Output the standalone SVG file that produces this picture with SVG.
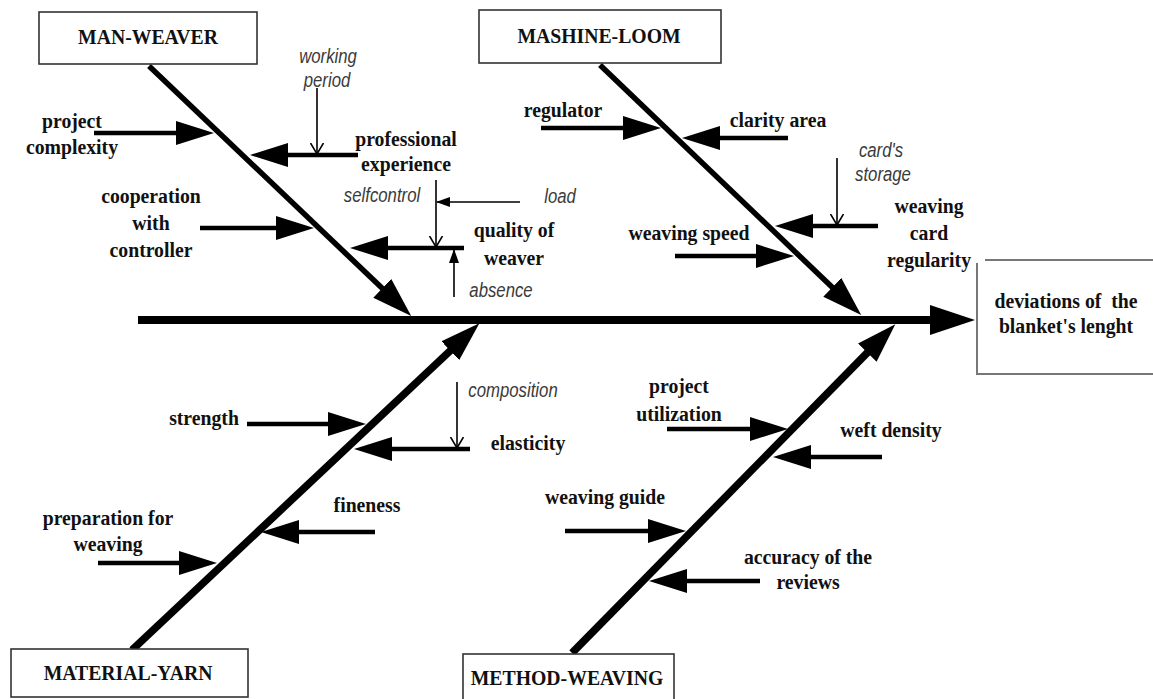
<svg xmlns="http://www.w3.org/2000/svg" width="1153" height="699" viewBox="0 0 1153 699">
<style>
.bg{fill:#fff}
.box{fill:#fff;stroke:#333;stroke-width:1.6}
.gbox{fill:none;stroke:#777;stroke-width:2}
.t{font-family:"Liberation Serif","Times New Roman",serif;font-weight:bold;font-size:21px;fill:#111;text-anchor:middle}
.i{font-family:"Liberation Sans",Arial,sans-serif;font-style:italic;font-size:19.5px;fill:#3a3a3a;text-anchor:middle}
.spine{stroke:#000;stroke-width:8;fill:none}
.bt{stroke:#000;stroke-width:5.5;fill:none;marker-end:url(#bh)}
.bb{stroke:#000;stroke-width:7.5;fill:none;marker-end:url(#bh)}
.br{stroke:#000;stroke-width:4.5;fill:none;marker-end:url(#ah)}
.th{stroke:#000;stroke-width:1.6;fill:none;marker-end:url(#vh)}
.ts{stroke:#000;stroke-width:1.6;fill:none;marker-end:url(#sh)}
</style>
<defs>
<marker id="ah" markerUnits="userSpaceOnUse" viewBox="0 0 38 24" markerWidth="38" markerHeight="24" refX="1" refY="12" orient="auto"><path d="M0,0 L38,12 L0,24 Z" fill="#000"/></marker>
<marker id="bh" markerUnits="userSpaceOnUse" viewBox="0 0 40 26" markerWidth="40" markerHeight="26" refX="1" refY="13" orient="auto"><path d="M0,0 L40,13 L0,26 Z" fill="#000"/></marker>
<marker id="sh" markerUnits="userSpaceOnUse" viewBox="0 0 14 10" markerWidth="14" markerHeight="10" refX="13" refY="5" orient="auto"><path d="M0,0 L14,5 L0,10 Z" fill="#000"/></marker>
<marker id="vh" markerUnits="userSpaceOnUse" viewBox="0 0 12 14" markerWidth="12" markerHeight="14" refX="11" refY="7" orient="auto"><path d="M0,0.5 L11,7 L0,13.5" fill="none" stroke="#000" stroke-width="1.6"/></marker>
</defs>
<rect class="bg" x="0" y="0" width="1153" height="699"/>

<g id="connectors">
<line class="spine" x1="138" y1="320" x2="932" y2="320"/>
<polygon points="930,305 975,320 930,335" fill="#000"/>
<line class="bt" x1="149" y1="66" x2="383" y2="289"/>
<line class="bt" x1="600" y1="65" x2="833" y2="288"/>
<line class="bb" x1="132" y1="650" x2="451" y2="350"/>
<line class="bb" x1="572" y1="653" x2="868" y2="352"/>

<line class="br" x1="94" y1="133" x2="177" y2="133"/>
<line class="br" x1="358" y1="155" x2="287" y2="155"/>
<line class="br" x1="200" y1="228" x2="277" y2="228"/>
<line class="br" x1="464" y1="248" x2="387" y2="248"/>
<line class="br" x1="541" y1="128" x2="624" y2="128"/>
<line class="br" x1="788" y1="138" x2="719" y2="138"/>
<line class="br" x1="878" y1="226" x2="812" y2="226"/>
<line class="br" x1="675" y1="256" x2="757" y2="256"/>
<line class="br" x1="247" y1="424" x2="329" y2="424"/>
<line class="br" x1="470" y1="449" x2="391" y2="449"/>
<line class="br" x1="375" y1="532" x2="298" y2="532"/>
<line class="br" x1="98" y1="563" x2="180" y2="563"/>
<line class="br" x1="667" y1="429" x2="751" y2="429"/>
<line class="br" x1="882" y1="457" x2="810" y2="457"/>
<line class="br" x1="565" y1="531" x2="649" y2="531"/>
<line class="br" x1="760" y1="581" x2="686" y2="581"/>

<line class="th" x1="317" y1="88" x2="317" y2="154"/>
<line class="th" x1="436" y1="180" x2="436" y2="247"/>
<line class="ts" x1="520" y1="202" x2="437" y2="202"/>
<line class="ts" x1="454" y1="297" x2="454" y2="250"/>
<line class="th" x1="837" y1="158" x2="837" y2="225"/>
<line class="th" x1="457" y1="382" x2="457" y2="448"/>
</g>

<g id="man-weaver">
<rect class="box" x="39" y="12" width="218" height="52"/>
<text class="t" transform="translate(148 44) scale(0.94 1)">MAN-WEAVER</text>
</g>
<g id="mashine-loom">
<rect class="box" x="479" y="10" width="242" height="53"/>
<text class="t" transform="translate(599 43) scale(0.94 1)">MASHINE-LOOM</text>
</g>
<g id="material-yarn">
<rect class="box" x="11" y="649" width="237" height="48"/>
<text class="t" transform="translate(128 680) scale(0.94 1)">MATERIAL-YARN</text>
</g>
<g id="method-weaving">
<rect class="box" x="463" y="654" width="211" height="50"/>
<text class="t" transform="translate(567 685) scale(0.94 1)">METHOD-WEAVING</text>
</g>
<g id="effect">
<path class="gbox" d="M985,260 L1160,260"/>
<path class="gbox" d="M977,263 L977,374 L1160,374"/>
<text class="t" transform="translate(1066 308) scale(0.94 1)" xml:space="preserve">deviations of  the</text>
<text class="t" transform="translate(1066 333) scale(0.94 1)">blanket's lenght</text>
</g>

<g id="project-complexity"><text class="t" transform="translate(72 128) scale(0.94 1)">project</text><text class="t" transform="translate(72 154) scale(0.94 1)">complexity</text></g>
<g id="professional-experience"><text class="t" transform="translate(406 146) scale(0.94 1)">professional</text><text class="t" transform="translate(406 171) scale(0.94 1)">experience</text></g>
<g id="cooperation"><text class="t" transform="translate(151 203) scale(0.94 1)">cooperation</text><text class="t" transform="translate(151 230) scale(0.94 1)">with</text><text class="t" transform="translate(151 257) scale(0.94 1)">controller</text></g>
<g id="quality-of-weaver"><text class="t" transform="translate(514 237) scale(0.94 1)">quality of</text><text class="t" transform="translate(514 265) scale(0.94 1)">weaver</text></g>
<g id="working-period"><text class="i" transform="translate(328 63) scale(0.86 1)">working</text><text class="i" transform="translate(327 87) scale(0.86 1)">period</text></g>
<g id="selfcontrol"><text class="i" transform="translate(382 202) scale(0.86 1)">selfcontrol</text></g>
<g id="load"><text class="i" transform="translate(560 203) scale(0.86 1)">load</text></g>
<g id="absence"><text class="i" transform="translate(501 297) scale(0.86 1)">absence</text></g>

<g id="regulator"><text class="t" transform="translate(563 117) scale(0.94 1)">regulator</text></g>
<g id="clarity-area"><text class="t" transform="translate(778 127) scale(0.94 1)">clarity area</text></g>
<g id="cards-storage"><text class="i" transform="translate(881 157) scale(0.86 1)">card's</text><text class="i" transform="translate(883 181) scale(0.86 1)">storage</text></g>
<g id="weaving-card-regularity"><text class="t" transform="translate(929 213) scale(0.94 1)">weaving</text><text class="t" transform="translate(929 240) scale(0.94 1)">card</text><text class="t" transform="translate(929 267) scale(0.94 1)">regularity</text></g>
<g id="weaving-speed"><text class="t" transform="translate(689 240) scale(0.94 1)">weaving speed</text></g>

<g id="strength"><text class="t" transform="translate(204 425) scale(0.94 1)">strength</text></g>
<g id="composition"><text class="i" transform="translate(513 397) scale(0.86 1)">composition</text></g>
<g id="elasticity"><text class="t" transform="translate(528 450) scale(0.94 1)">elasticity</text></g>
<g id="fineness"><text class="t" transform="translate(367 512) scale(0.94 1)">fineness</text></g>
<g id="preparation"><text class="t" transform="translate(108 525) scale(0.94 1)">preparation for</text><text class="t" transform="translate(108 551) scale(0.94 1)">weaving</text></g>

<g id="project-utilization"><text class="t" transform="translate(679 393) scale(0.94 1)">project</text><text class="t" transform="translate(679 421) scale(0.94 1)">utilization</text></g>
<g id="weft-density"><text class="t" transform="translate(891 437) scale(0.94 1)">weft density</text></g>
<g id="weaving-guide"><text class="t" transform="translate(605 504) scale(0.94 1)">weaving guide</text></g>
<g id="accuracy"><text class="t" transform="translate(808 564) scale(0.94 1)">accuracy of the</text><text class="t" transform="translate(808 589) scale(0.94 1)">reviews</text></g>
</svg>
